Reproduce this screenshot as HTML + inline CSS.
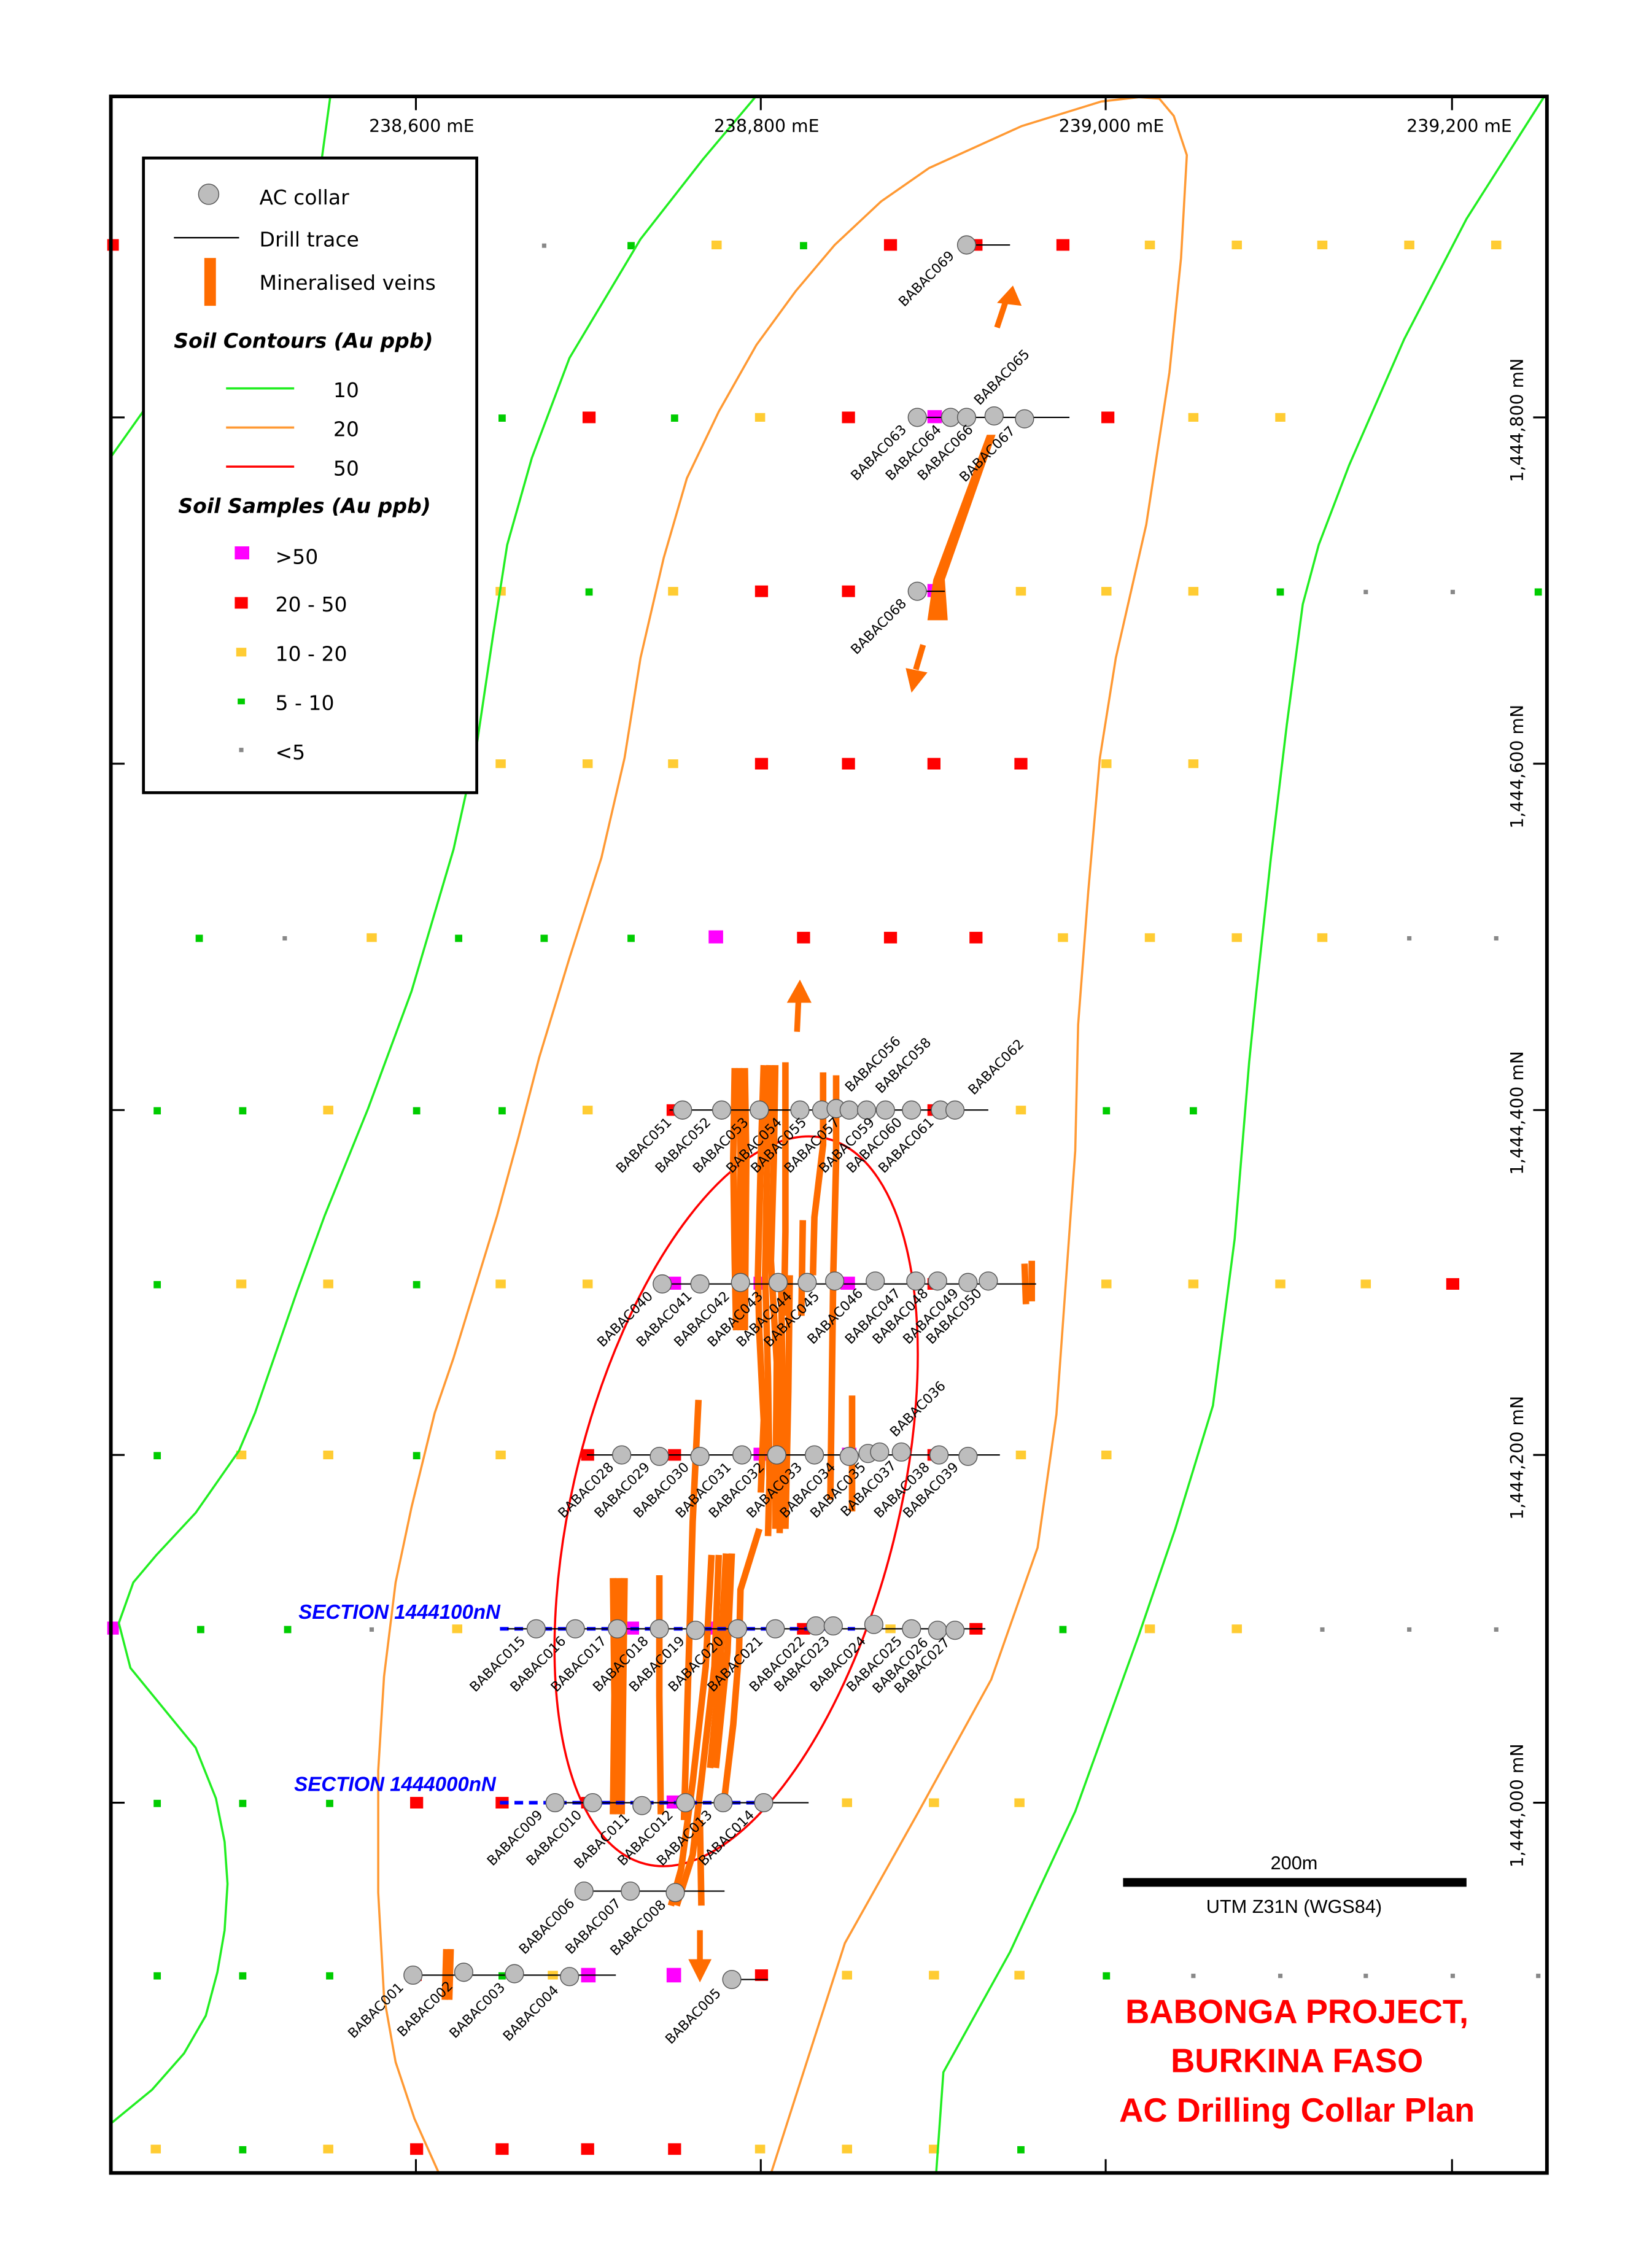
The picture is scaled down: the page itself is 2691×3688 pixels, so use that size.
<!DOCTYPE html>
<html><head><meta charset="utf-8"><style>
html,body{margin:0;padding:0;background:#fff}
svg{display:block}
.lb{font-family:"DejaVu Sans","Liberation Sans",sans-serif;font-size:9.3px;fill:#000}
.lg{font-family:"DejaVu Sans","Liberation Sans",sans-serif;font-size:14px;fill:#000}
.ax{font-family:"DejaVu Sans","Liberation Sans",sans-serif;font-size:12px;fill:#000}
</style></head><body>
<svg width="2691" height="3688" viewBox="0 0 1140 1562.3" xmlns="http://www.w3.org/2000/svg">
<rect width="1140" height="1563" fill="#fff"/>
<g id="samples">
<rect x="74" y="165" width="8" height="8" fill="#f00"/>
<rect x="374" y="168" width="3" height="3" fill="#888"/><rect x="433" y="167" width="5" height="5" fill="#0c0"/><rect x="491" y="166" width="7" height="6" fill="#fc3"/><rect x="552" y="167" width="5" height="5" fill="#0c0"/><rect x="610" y="165" width="9" height="8" fill="#f00"/><rect x="669" y="165" width="9" height="8" fill="#f00"/><rect x="729" y="165" width="9" height="8" fill="#f00"/><rect x="790" y="166" width="7" height="6" fill="#fc3"/><rect x="850" y="166" width="7" height="6" fill="#fc3"/><rect x="909" y="166" width="7" height="6" fill="#fc3"/><rect x="969" y="166" width="7" height="6" fill="#fc3"/><rect x="1029" y="166" width="7" height="6" fill="#fc3"/>
<rect x="344" y="286" width="5" height="5" fill="#0c0"/><rect x="402" y="284" width="9" height="8" fill="#f00"/><rect x="463" y="286" width="5" height="5" fill="#0c0"/><rect x="521" y="285" width="7" height="6" fill="#fc3"/><rect x="581" y="284" width="9" height="8" fill="#f00"/><rect x="640" y="283" width="10" height="9" fill="#f0f"/><rect x="760" y="284" width="9" height="8" fill="#f00"/><rect x="820" y="285" width="7" height="6" fill="#fc3"/><rect x="880" y="285" width="7" height="6" fill="#fc3"/>
<rect x="342" y="405" width="7" height="6" fill="#fc3"/><rect x="404" y="406" width="5" height="5" fill="#0c0"/><rect x="461" y="405" width="7" height="6" fill="#fc3"/><rect x="521" y="404" width="9" height="8" fill="#f00"/><rect x="581" y="404" width="9" height="8" fill="#f00"/><rect x="640" y="403" width="10" height="9" fill="#f0f"/><rect x="701" y="405" width="7" height="6" fill="#fc3"/><rect x="760" y="405" width="7" height="6" fill="#fc3"/><rect x="820" y="405" width="7" height="6" fill="#fc3"/><rect x="881" y="406" width="5" height="5" fill="#0c0"/><rect x="941" y="407" width="3" height="3" fill="#888"/><rect x="1001" y="407" width="3" height="3" fill="#888"/><rect x="1059" y="406" width="5" height="5" fill="#0c0"/>
<rect x="342" y="524" width="7" height="6" fill="#fc3"/><rect x="402" y="524" width="7" height="6" fill="#fc3"/><rect x="461" y="524" width="7" height="6" fill="#fc3"/><rect x="521" y="523" width="9" height="8" fill="#f00"/><rect x="581" y="523" width="9" height="8" fill="#f00"/><rect x="640" y="523" width="9" height="8" fill="#f00"/><rect x="700" y="523" width="9" height="8" fill="#f00"/><rect x="760" y="524" width="7" height="6" fill="#fc3"/><rect x="820" y="524" width="7" height="6" fill="#fc3"/>
<rect x="135" y="645" width="5" height="5" fill="#0c0"/><rect x="195" y="646" width="3" height="3" fill="#888"/><rect x="253" y="644" width="7" height="6" fill="#fc3"/><rect x="314" y="645" width="5" height="5" fill="#0c0"/><rect x="373" y="645" width="5" height="5" fill="#0c0"/><rect x="433" y="645" width="5" height="5" fill="#0c0"/><rect x="489" y="642" width="10" height="9" fill="#f0f"/><rect x="550" y="643" width="9" height="8" fill="#f00"/><rect x="610" y="643" width="9" height="8" fill="#f00"/><rect x="669" y="643" width="9" height="8" fill="#f00"/><rect x="730" y="644" width="7" height="6" fill="#fc3"/><rect x="790" y="644" width="7" height="6" fill="#fc3"/><rect x="850" y="644" width="7" height="6" fill="#fc3"/><rect x="909" y="644" width="7" height="6" fill="#fc3"/><rect x="971" y="646" width="3" height="3" fill="#888"/><rect x="1031" y="646" width="3" height="3" fill="#888"/>
<rect x="106" y="764" width="5" height="5" fill="#0c0"/><rect x="165" y="764" width="5" height="5" fill="#0c0"/><rect x="223" y="763" width="7" height="6" fill="#fc3"/><rect x="285" y="764" width="5" height="5" fill="#0c0"/><rect x="344" y="764" width="5" height="5" fill="#0c0"/><rect x="402" y="763" width="7" height="6" fill="#fc3"/><rect x="460" y="762" width="9" height="8" fill="#f00"/><rect x="521" y="761" width="10" height="9" fill="#f0f"/><rect x="640" y="762" width="9" height="8" fill="#f00"/><rect x="701" y="763" width="7" height="6" fill="#fc3"/><rect x="761" y="764" width="5" height="5" fill="#0c0"/><rect x="821" y="764" width="5" height="5" fill="#0c0"/>
<rect x="106" y="884" width="5" height="5" fill="#0c0"/><rect x="163" y="883" width="7" height="6" fill="#fc3"/><rect x="223" y="883" width="7" height="6" fill="#fc3"/><rect x="285" y="884" width="5" height="5" fill="#0c0"/><rect x="342" y="883" width="7" height="6" fill="#fc3"/><rect x="402" y="883" width="7" height="6" fill="#fc3"/><rect x="460" y="881" width="10" height="9" fill="#f0f"/><rect x="520" y="881" width="10" height="9" fill="#f0f"/><rect x="580" y="881" width="10" height="9" fill="#f0f"/><rect x="640" y="882" width="9" height="8" fill="#f00"/><rect x="760" y="883" width="7" height="6" fill="#fc3"/><rect x="820" y="883" width="7" height="6" fill="#fc3"/><rect x="880" y="883" width="7" height="6" fill="#fc3"/><rect x="939" y="883" width="7" height="6" fill="#fc3"/><rect x="998" y="882" width="9" height="8" fill="#f00"/>
<rect x="106" y="1002" width="5" height="5" fill="#0c0"/><rect x="163" y="1001" width="7" height="6" fill="#fc3"/><rect x="223" y="1001" width="7" height="6" fill="#fc3"/><rect x="285" y="1002" width="5" height="5" fill="#0c0"/><rect x="342" y="1001" width="7" height="6" fill="#fc3"/><rect x="401" y="1000" width="9" height="8" fill="#f00"/><rect x="461" y="1000" width="9" height="8" fill="#f00"/><rect x="520" y="999" width="10" height="9" fill="#f0f"/><rect x="581" y="999" width="10" height="9" fill="#f0f"/><rect x="640" y="1000" width="9" height="8" fill="#f00"/><rect x="701" y="1001" width="7" height="6" fill="#fc3"/><rect x="760" y="1001" width="7" height="6" fill="#fc3"/>
<rect x="74" y="1119" width="8" height="9" fill="#f0f"/><rect x="136" y="1122" width="5" height="5" fill="#0c0"/><rect x="196" y="1122" width="5" height="5" fill="#0c0"/><rect x="255" y="1123" width="3" height="3" fill="#888"/><rect x="312" y="1121" width="7" height="6" fill="#fc3"/><rect x="431" y="1119" width="10" height="9" fill="#f0f"/><rect x="490" y="1119" width="10" height="9" fill="#f0f"/><rect x="550" y="1120" width="9" height="8" fill="#f00"/><rect x="611" y="1121" width="7" height="6" fill="#fc3"/><rect x="669" y="1120" width="9" height="8" fill="#f00"/><rect x="731" y="1122" width="5" height="5" fill="#0c0"/><rect x="790" y="1121" width="7" height="6" fill="#fc3"/><rect x="850" y="1121" width="7" height="6" fill="#fc3"/><rect x="911" y="1123" width="3" height="3" fill="#888"/><rect x="971" y="1123" width="3" height="3" fill="#888"/><rect x="1031" y="1123" width="3" height="3" fill="#888"/>
<rect x="106" y="1242" width="5" height="5" fill="#0c0"/><rect x="165" y="1242" width="5" height="5" fill="#0c0"/><rect x="225" y="1242" width="5" height="5" fill="#0c0"/><rect x="283" y="1240" width="9" height="8" fill="#f00"/><rect x="342" y="1240" width="9" height="8" fill="#f00"/><rect x="401" y="1240" width="9" height="8" fill="#f00"/><rect x="460" y="1239" width="10" height="9" fill="#f0f"/><rect x="581" y="1241" width="7" height="6" fill="#fc3"/><rect x="641" y="1241" width="7" height="6" fill="#fc3"/><rect x="700" y="1241" width="7" height="6" fill="#fc3"/>
<rect x="106" y="1361" width="5" height="5" fill="#0c0"/><rect x="165" y="1361" width="5" height="5" fill="#0c0"/><rect x="225" y="1361" width="5" height="5" fill="#0c0"/><rect x="283" y="1360" width="8" height="7" fill="#f00"/><rect x="344" y="1361" width="5" height="5" fill="#0c0"/><rect x="378" y="1360" width="7" height="6" fill="#fc3"/><rect x="401" y="1358" width="10" height="10" fill="#f0f"/><rect x="460" y="1358" width="10" height="10" fill="#f0f"/><rect x="521" y="1359" width="9" height="8" fill="#f00"/><rect x="581" y="1360" width="7" height="6" fill="#fc3"/><rect x="641" y="1360" width="7" height="6" fill="#fc3"/><rect x="700" y="1360" width="7" height="6" fill="#fc3"/><rect x="761" y="1361" width="5" height="5" fill="#0c0"/><rect x="822" y="1362" width="3" height="3" fill="#888"/><rect x="882" y="1362" width="3" height="3" fill="#888"/><rect x="941" y="1362" width="3" height="3" fill="#888"/><rect x="1001" y="1362" width="3" height="3" fill="#888"/><rect x="1060" y="1362" width="3" height="3" fill="#888"/>
<rect x="104" y="1480" width="7" height="6" fill="#fc3"/><rect x="165" y="1481" width="5" height="5" fill="#0c0"/><rect x="223" y="1480" width="7" height="6" fill="#fc3"/><rect x="283" y="1479" width="9" height="8" fill="#f00"/><rect x="342" y="1479" width="9" height="8" fill="#f00"/><rect x="401" y="1479" width="9" height="8" fill="#f00"/><rect x="461" y="1479" width="9" height="8" fill="#f00"/><rect x="521" y="1480" width="7" height="6" fill="#fc3"/><rect x="581" y="1480" width="7" height="6" fill="#fc3"/><rect x="641" y="1480" width="7" height="6" fill="#fc3"/><rect x="702" y="1481" width="5" height="5" fill="#0c0"/>
</g>
<g fill="none" stroke-width="1.5" stroke-linejoin="round">
<polyline stroke="#2e2" points="228,66 222,110 76,316"/>
<polyline stroke="#2e2" points="522,66 485,110 442,165 393,247 367,316 350,376 340,440 329,514 313,586 284,684 254,765 224,839 205,891 176,975 165,1001 135,1044 108,1073 92,1092 82,1120 90,1151 135,1206 149,1241 155,1271 157,1300 155,1332 150,1361 142,1391 127,1417 105,1442 77,1465"/>
<polyline stroke="#2e2" points="1066,66 1012,151 969,234 931,321 910,376 899,417 888,500 877,592 867,684 862,733 852,855 837,970 811,1055 786,1128 742,1250 697,1347 651,1430 646,1500"/>
<polyline stroke="#f93" points="303,1500 286,1462 273,1423 265,1378 261,1306 261,1222 265,1157 273,1092 284,1040 300,975 313,937 343,839 358,784 372,730 393,661 415,592 431,523 442,454 458,385 474,330 496,284 522,238 549,201 576,169 608,139 641,116 705,87 760,70 786,67 800,68 810,80 819,107 815,178 807,257 791,362 770,454 759,523 751,615 744,707 742,794 729,976 716,1068 684,1159 634,1250 583,1341 532,1500"/>
<ellipse cx="508" cy="1036" rx="112" ry="258" transform="rotate(14 508 1036)" stroke="#f00"/>
</g>
<g fill="none" stroke="#ff6c00" stroke-width="4.5" stroke-linejoin="round">
<polyline points="507,737 506,800 507,870 508,918"/>
<polyline points="510,737 511,800 510,870 511,918"/>
<polyline points="514,737 515,800 514,918"/>
<polyline points="527,735 525,800 523,880 524,920 527,980 525,1030"/>
<polyline points="531,735 529,820 528,880 530,950 531,1020 530,1060"/>
<polyline points="535,735 534,800 532,870 536,940 535,1055"/>
<polyline points="542,733 542,850 541,908"/>
<polyline points="539,880 540,960 538,1058"/>
<polyline points="545,880 544,960 542,1055"/>
<polyline points="554,842 553,908"/>
<polyline points="568,740 568,790 562,840 561,880"/>
<polyline points="577,742 577,800 575,880 573,1035"/>
<polyline points="588,963 588,1043"/>
<polyline points="707,872 708,900"/><polyline points="712,870 712,898"/>
<polyline points="482,966 478,1050 476,1120 472,1256"/>
<polyline points="423,1089 424,1170 423,1252"/><polyline points="427,1089 428,1170 427,1252"/><polyline points="431,1089 430,1170 429,1252"/>
<polyline points="455,1087 455,1170 456,1252"/>
<polyline points="491,1073 487,1150 478,1230 470,1290 463,1315"/>
<polyline points="496,1073 493,1150 485,1220 478,1280 467,1315"/>
<polyline points="501,1072 497,1150 490,1220"/>
<polyline points="505,1072 502,1140 494,1220"/>
<polyline points="524,1055 511,1097 510,1139 506,1190 500,1240"/>
<polyline points="483,1256 484,1315"/>
<polyline points="308,1345 307,1380"/><polyline points="311,1345 310,1380"/>
</g>
<polygon points="681,300 687,300 652,400 654,428 640,428 644,400" fill="#ff6c00"/>
<g stroke="#ff6c00" stroke-width="4" fill="#ff6c00">
<line x1="688" y1="226" x2="694" y2="208"/><polygon points="688,209 705,211 699,197" stroke="none"/>
<line x1="550" y1="712" x2="551" y2="690"/><polygon points="543,692 560,692 552,676" stroke="none"/>
<line x1="637" y1="445" x2="632" y2="462"/><polygon points="625,461 640,464 629,478" stroke="none"/>
<line x1="483" y1="1332" x2="483" y2="1352"/><polygon points="475,1352 491,1352 483,1368" stroke="none"/>
</g>
<g stroke="#00f" stroke-width="2.5" stroke-dasharray="6,4">
<line x1="345" y1="1124" x2="590" y2="1124"/>
<line x1="345" y1="1244" x2="522" y2="1244"/>
</g>
<g font-family="Liberation Sans,sans-serif" font-weight="bold" font-style="italic" font-size="14" fill="#00f">
<text x="206" y="1117">SECTION 1444100nN</text>
<text x="203" y="1236">SECTION 1444000nN</text>
</g>
<g stroke="#000" stroke-width="0.9">
<line x1="667" y1="169" x2="697" y2="169"/>
<line x1="630" y1="288" x2="738" y2="288"/>
<line x1="633" y1="408" x2="652" y2="408"/>
<line x1="462" y1="766" x2="682" y2="766"/>
<line x1="455" y1="886" x2="715" y2="886"/>
<line x1="405" y1="1004" x2="690" y2="1004"/>
<line x1="350" y1="1124" x2="680" y2="1124"/>
<line x1="380" y1="1244" x2="558" y2="1244"/>
<line x1="400" y1="1305" x2="500" y2="1305"/>
<line x1="282" y1="1363" x2="425" y2="1363"/>
<line x1="505" y1="1366" x2="530" y2="1366"/>
</g>
<g fill="#bdbdbd" stroke="#555" stroke-width="0.6">
<circle cx="667" cy="169" r="6.3"/>
<circle cx="633" cy="288" r="6.3"/><circle cx="656" cy="288" r="6.3"/><circle cx="667" cy="288" r="6.3"/><circle cx="686" cy="287" r="6.3"/><circle cx="707" cy="289" r="6.3"/>
<circle cx="633" cy="408" r="6.3"/>
<circle cx="471" cy="766" r="6.3"/><circle cx="498" cy="766" r="6.3"/><circle cx="524" cy="766" r="6.3"/><circle cx="552" cy="766" r="6.3"/><circle cx="567" cy="766" r="6.3"/><circle cx="577" cy="765" r="6.3"/><circle cx="586" cy="766" r="6.3"/><circle cx="598" cy="766" r="6.3"/><circle cx="611" cy="766" r="6.3"/><circle cx="629" cy="766" r="6.3"/><circle cx="649" cy="766" r="6.3"/><circle cx="659" cy="766" r="6.3"/>
<circle cx="457" cy="886" r="6.3"/><circle cx="483" cy="886" r="6.3"/><circle cx="511" cy="885" r="6.3"/><circle cx="537" cy="885" r="6.3"/><circle cx="557" cy="885" r="6.3"/><circle cx="576" cy="884" r="6.3"/><circle cx="604" cy="884" r="6.3"/><circle cx="632" cy="884" r="6.3"/><circle cx="647" cy="884" r="6.3"/><circle cx="668" cy="885" r="6.3"/><circle cx="682" cy="884" r="6.3"/>
<circle cx="429" cy="1004" r="6.3"/><circle cx="455" cy="1005" r="6.3"/><circle cx="483" cy="1005" r="6.3"/><circle cx="512" cy="1004" r="6.3"/><circle cx="536" cy="1004" r="6.3"/><circle cx="562" cy="1004" r="6.3"/><circle cx="586" cy="1005" r="6.3"/><circle cx="599" cy="1003" r="6.3"/><circle cx="607" cy="1002" r="6.3"/><circle cx="622" cy="1002" r="6.3"/><circle cx="648" cy="1004" r="6.3"/><circle cx="668" cy="1005" r="6.3"/>
<circle cx="370" cy="1124" r="6.3"/><circle cx="397" cy="1124" r="6.3"/><circle cx="426" cy="1124" r="6.3"/><circle cx="455" cy="1124" r="6.3"/><circle cx="480" cy="1125" r="6.3"/><circle cx="509" cy="1124" r="6.3"/><circle cx="535" cy="1124" r="6.3"/><circle cx="563" cy="1122" r="6.3"/><circle cx="575" cy="1122" r="6.3"/><circle cx="603" cy="1121" r="6.3"/><circle cx="629" cy="1124" r="6.3"/><circle cx="647" cy="1125" r="6.3"/><circle cx="659" cy="1125" r="6.3"/>
<circle cx="383" cy="1244" r="6.3"/><circle cx="409" cy="1244" r="6.3"/><circle cx="443" cy="1246" r="6.3"/><circle cx="473" cy="1244" r="6.3"/><circle cx="499" cy="1244" r="6.3"/><circle cx="527" cy="1244" r="6.3"/>
<circle cx="403" cy="1305" r="6.3"/><circle cx="435" cy="1305" r="6.3"/><circle cx="466" cy="1306" r="6.3"/>
<circle cx="285" cy="1363" r="6.3"/><circle cx="320" cy="1361" r="6.3"/><circle cx="355" cy="1362" r="6.3"/><circle cx="393" cy="1364" r="6.3"/><circle cx="505" cy="1366" r="6.3"/>
</g>
<g class="lb" text-anchor="end">
<text transform="translate(659,177) rotate(-45)">BABAC069</text>
<text transform="translate(626,297) rotate(-45)">BABAC063</text>
<text transform="translate(650,297) rotate(-45)">BABAC064</text>
<text transform="translate(672,297) rotate(-45)">BABAC066</text>
<text transform="translate(701,298) rotate(-45)">BABAC067</text>
<text transform="translate(626,417) rotate(-45)">BABAC068</text>
<text transform="translate(464,775) rotate(-45)">BABAC051</text>
<text transform="translate(491,775) rotate(-45)">BABAC052</text>
<text transform="translate(517,775) rotate(-45)">BABAC053</text>
<text transform="translate(540,775) rotate(-45)">BABAC054</text>
<text transform="translate(557,775) rotate(-45)">BABAC055</text>
<text transform="translate(580,775) rotate(-45)">BABAC057</text>
<text transform="translate(604,775) rotate(-45)">BABAC059</text>
<text transform="translate(623,775) rotate(-45)">BABAC060</text>
<text transform="translate(645,775) rotate(-45)">BABAC061</text>
<text transform="translate(451,895) rotate(-45)">BABAC040</text>
<text transform="translate(478,895) rotate(-45)">BABAC041</text>
<text transform="translate(504,895) rotate(-45)">BABAC042</text>
<text transform="translate(527,895) rotate(-45)">BABAC043</text>
<text transform="translate(547,895) rotate(-45)">BABAC044</text>
<text transform="translate(566,895) rotate(-45)">BABAC045</text>
<text transform="translate(596,893) rotate(-45)">BABAC046</text>
<text transform="translate(622,893) rotate(-45)">BABAC047</text>
<text transform="translate(641,893) rotate(-45)">BABAC048</text>
<text transform="translate(662,893) rotate(-45)">BABAC049</text>
<text transform="translate(678,893) rotate(-45)">BABAC050</text>
<text transform="translate(424,1013) rotate(-45)">BABAC028</text>
<text transform="translate(449,1013) rotate(-45)">BABAC029</text>
<text transform="translate(476,1013) rotate(-45)">BABAC030</text>
<text transform="translate(505,1013) rotate(-45)">BABAC031</text>
<text transform="translate(528,1013) rotate(-45)">BABAC032</text>
<text transform="translate(554,1013) rotate(-45)">BABAC033</text>
<text transform="translate(577,1013) rotate(-45)">BABAC034</text>
<text transform="translate(598,1013) rotate(-45)">BABAC035</text>
<text transform="translate(619,1012) rotate(-45)">BABAC037</text>
<text transform="translate(642,1013) rotate(-45)">BABAC038</text>
<text transform="translate(662,1013) rotate(-45)">BABAC039</text>
<text transform="translate(363,1133) rotate(-45)">BABAC015</text>
<text transform="translate(391,1133) rotate(-45)">BABAC016</text>
<text transform="translate(419,1133) rotate(-45)">BABAC017</text>
<text transform="translate(448,1133) rotate(-45)">BABAC018</text>
<text transform="translate(473,1133) rotate(-45)">BABAC019</text>
<text transform="translate(500,1133) rotate(-45)">BABAC020</text>
<text transform="translate(527,1133) rotate(-45)">BABAC021</text>
<text transform="translate(556,1133) rotate(-45)">BABAC022</text>
<text transform="translate(573,1133) rotate(-45)">BABAC023</text>
<text transform="translate(598,1133) rotate(-45)">BABAC024</text>
<text transform="translate(623,1133) rotate(-45)">BABAC025</text>
<text transform="translate(641,1134) rotate(-45)">BABAC026</text>
<text transform="translate(656,1134) rotate(-45)">BABAC027</text>
<text transform="translate(375,1253) rotate(-45)">BABAC009</text>
<text transform="translate(402,1253) rotate(-45)">BABAC010</text>
<text transform="translate(435,1255) rotate(-45)">BABAC011</text>
<text transform="translate(465,1253) rotate(-45)">BABAC012</text>
<text transform="translate(492,1253) rotate(-45)">BABAC013</text>
<text transform="translate(521,1253) rotate(-45)">BABAC014</text>
<text transform="translate(397,1314) rotate(-45)">BABAC006</text>
<text transform="translate(429,1314) rotate(-45)">BABAC007</text>
<text transform="translate(460,1315) rotate(-45)">BABAC008</text>
<text transform="translate(279,1372) rotate(-45)">BABAC001</text>
<text transform="translate(313,1371) rotate(-45)">BABAC002</text>
<text transform="translate(349,1372) rotate(-45)">BABAC003</text>
<text transform="translate(386,1374) rotate(-45)">BABAC004</text>
<text transform="translate(498,1376) rotate(-45)">BABAC005</text>
</g>
<g class="lb">
<text transform="translate(676,280) rotate(-45)">BABAC065</text>
<text transform="translate(587,754) rotate(-45)">BABAC056</text>
<text transform="translate(608,755) rotate(-45)">BABAC058</text>
<text transform="translate(672,756) rotate(-45)">BABAC062</text>
<text transform="translate(618,992) rotate(-45)">BABAC036</text>
</g>
<rect x="76.5" y="66.5" width="991" height="1433" fill="none" stroke="#000" stroke-width="2.5"/>
<g stroke="#000" stroke-width="1.3">
<line x1="287" y1="66" x2="287" y2="76"/><line x1="525" y1="66" x2="525" y2="76"/><line x1="763" y1="66" x2="763" y2="76"/><line x1="1002" y1="66" x2="1002" y2="76"/>
<line x1="287" y1="1490" x2="287" y2="1500"/><line x1="525" y1="1490" x2="525" y2="1500"/><line x1="763" y1="1490" x2="763" y2="1500"/><line x1="1002" y1="1490" x2="1002" y2="1500"/>
<line x1="76" y1="288" x2="86" y2="288"/><line x1="76" y1="527" x2="86" y2="527"/><line x1="76" y1="766" x2="86" y2="766"/><line x1="76" y1="1004" x2="86" y2="1004"/><line x1="76" y1="1244" x2="86" y2="1244"/>
<line x1="1058" y1="288" x2="1068" y2="288"/><line x1="1058" y1="527" x2="1068" y2="527"/><line x1="1058" y1="766" x2="1068" y2="766"/><line x1="1058" y1="1004" x2="1068" y2="1004"/><line x1="1058" y1="1244" x2="1068" y2="1244"/>
</g>
<g class="ax" text-anchor="middle">
<text x="291" y="91">238,600 mE</text><text x="529" y="91">238,800 mE</text><text x="767" y="91">239,000 mE</text><text x="1007" y="91">239,200 mE</text>
<text transform="translate(1051,290) rotate(-90)">1,444,800 mN</text>
<text transform="translate(1051,529) rotate(-90)">1,444,600 mN</text>
<text transform="translate(1051,768) rotate(-90)">1,444,400 mN</text>
<text transform="translate(1051,1006) rotate(-90)">1,444,200 mN</text>
<text transform="translate(1051,1246) rotate(-90)">1,444,000 mN</text>
</g>
<rect x="99" y="109" width="230" height="438" fill="#fff" stroke="#000" stroke-width="2"/>
<circle cx="144" cy="134" r="7" fill="#bdbdbd" stroke="#555" stroke-width="0.6"/>
<text class="lg" x="179" y="141">AC collar</text>
<line x1="120" y1="164" x2="165" y2="164" stroke="#000" stroke-width="1"/>
<text class="lg" x="179" y="170">Drill trace</text>
<rect x="141" y="178" width="8" height="33" fill="#ff6c00"/>
<text class="lg" x="179" y="200">Mineralised veins</text>
<text class="lg" x="120" y="240" font-weight="bold" font-style="italic">Soil Contours (Au ppb)</text>
<line x1="156" y1="268" x2="203" y2="268" stroke="#2e2" stroke-width="1.5"/><text class="lg" x="230" y="274">10</text>
<line x1="156" y1="295" x2="203" y2="295" stroke="#f93" stroke-width="1.5"/><text class="lg" x="230" y="301">20</text>
<line x1="156" y1="322" x2="203" y2="322" stroke="#f00" stroke-width="1.5"/><text class="lg" x="230" y="328">50</text>
<text class="lg" x="123" y="354" font-weight="bold" font-style="italic">Soil Samples (Au ppb)</text>
<rect x="162" y="377" width="10" height="9" fill="#f0f"/><text class="lg" x="190" y="389">&gt;50</text>
<rect x="162" y="412" width="9" height="8" fill="#f00"/><text class="lg" x="190" y="422">20 - 50</text>
<rect x="163" y="447" width="7" height="6" fill="#fc3"/><text class="lg" x="190" y="456">10 - 20</text>
<rect x="164" y="482" width="5" height="4" fill="#0c0"/><text class="lg" x="190" y="490">5 - 10</text>
<rect x="165" y="516" width="3" height="3" fill="#888"/><text class="lg" x="190" y="524">&lt;5</text>
<rect x="775" y="1296" width="237" height="6" fill="#000"/>
<text x="893" y="1290" text-anchor="middle" font-family="Liberation Sans,sans-serif" font-size="13">200m</text>
<text x="893" y="1320" text-anchor="middle" font-family="Liberation Sans,sans-serif" font-size="13">UTM Z31N (WGS84)</text>
<g font-family="Liberation Sans,sans-serif" font-weight="bold" font-size="23" fill="#f00" text-anchor="middle">
<text x="895" y="1396">BABONGA PROJECT,</text>
<text x="895" y="1430">BURKINA FASO</text>
<text x="895" y="1464">AC Drilling Collar Plan</text>
</g>
</svg>
</body></html>
